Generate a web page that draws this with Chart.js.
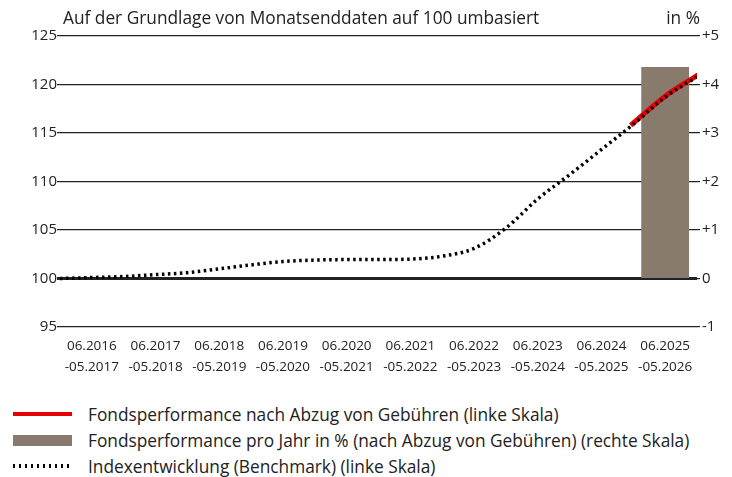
<!DOCTYPE html>
<html>
<head>
<meta charset="utf-8">
<script src="https://cdn.jsdelivr.net/npm/chart.js@4"></script>
<style>
  body { margin: 0; background: #fff; font-family: "Open Sans", sans-serif; color: #222; }
  #wrap { position: relative; width: 732px; height: 477px; }
  #chart-box { position: absolute; left: 0; top: 0; width: 732px; height: 385px; }
  .caption { position: absolute; top: 6px; font-size: 17.3px; white-space: nowrap; }
  #legend { position: absolute; left: 13px; top: 401px; font-size: 17.3px; }
  #legend div { height: 26px; display: flex; align-items: center; white-space: nowrap; }
  .mk { width: 59px; margin-right: 16px; display: inline-block; }
</style>
</head>
<body>
<div id="wrap">
  <div id="chart-box"><canvas id="myChart"></canvas></div>
  <div class="caption" style="left:63px">Auf der Grundlage von Monatsenddaten auf 100 umbasiert</div>
  <div class="caption" style="right:32px">in %</div>
  <div id="legend">
    <div><span class="mk" style="height:4px;background:#e60000"></span>Fondsperformance nach Abzug von Gebühren (linke Skala)</div>
    <div><span class="mk" style="height:11px;background:#887b6d"></span>Fondsperformance pro Jahr in % (nach Abzug von Gebühren) (rechte Skala)</div>
    <div><span class="mk" style="height:4px;background:repeating-linear-gradient(90deg,#000 0 2px,transparent 2px 6px)"></span>Indexentwicklung (Benchmark) (linke Skala)</div>
  </div>
</div>
<script>
// Zeitraeume (Jahresbalken)
const periods = [
    ['06.2016', '-05.2017'], ['06.2017', '-05.2018'], ['06.2018', '-05.2019'],
    ['06.2019', '-05.2020'], ['06.2020', '-05.2021'], ['06.2021', '-05.2022'],
    ['06.2022', '-05.2023'], ['06.2023', '-05.2024'], ['06.2024', '-05.2025'],
    ['06.2025', '-05.2026']
];
// Performance pro Jahr in % (rechte Skala)
const yearlyPerf = [null, null, null, null, null, null, null, null, null, 4.36];

// Benchmark, Monate seit 05.2016 und Indexwert (linke Skala)
const benchMonths = [0, 6, 12, 18, 24, 30, 36, 42, 48, 54, 60, 66, 72, 78, 84, 90, 96, 102, 108, 114, 120];
const benchValues = [100.0, 100.1, 100.2, 100.4, 100.6, 101.0, 101.4, 101.75, 101.9, 101.95, 101.95, 102.0, 102.3, 103.1, 105.2, 108.2, 110.7, 113.3, 115.9, 118.7, 120.8];

// Fonds (linke Skala)
const fundMonths = [107.5, 114, 120.2];
const fundValues = [115.8, 118.8, 121.0];

const leftTicks = [95, 100, 105, 110, 115, 120, 125];
const rightTicks = [-1, 0, 1, 2, 3, 4, 5];

const ctx = document.getElementById('myChart');
const fontFamily = '"Open Sans", sans-serif';

new Chart(ctx, {
    type: 'bar',
    data: {
        labels: periods,
        datasets: [
            {
                type: 'line',
                label: 'Indexentwicklung (Benchmark) (linke Skala)',
                data: benchMonths.map((m, i) => ({ x: m, y: benchValues[i] })),
                xAxisID: 'xl',
                yAxisID: 'y',
                borderColor: '#000',
                borderWidth: 3.5,
                borderDash: [2.5, 3.5],
                pointRadius: 0,
                cubicInterpolationMode: 'monotone',
                order: 0
            },
            {
                type: 'line',
                label: 'Fondsperformance nach Abzug von Gebühren (linke Skala)',
                data: fundMonths.map((m, i) => ({ x: m, y: fundValues[i] })),
                xAxisID: 'xl',
                yAxisID: 'y',
                borderColor: '#e60000',
                borderWidth: 5,
                pointRadius: 0,
                cubicInterpolationMode: 'monotone',
                order: 1
            },
            {
                label: 'Fondsperformance pro Jahr in % (nach Abzug von Gebühren) (rechte Skala)',
                data: yearlyPerf,
                xAxisID: 'x',
                yAxisID: 'y2',
                backgroundColor: '#887b6d',
                grouped: false,
                categoryPercentage: 1,
                barPercentage: 0.75,
                order: 2
            }
        ]
    },
    options: {
        responsive: true,
        maintainAspectRatio: false,
        animation: false,
        layout: { padding: { top: 36, left: 0, right: 0, bottom: 0 } },
        plugins: {
            legend: { display: false },
            tooltip: { enabled: false }
        },
        scales: {
            x: {
                type: 'category',
                offset: true,
                grid: { display: false },
                border: { display: false },
                ticks: {
                    color: '#222',
                    font: { family: fontFamily, size: 13.5, lineHeight: 1.55 },
                    maxRotation: 0,
                    autoSkip: false,
                    padding: 1
                },
                afterFit: s => { s.height = 58; }
            },
            xl: {
                type: 'linear',
                min: 0,
                max: 120,
                offset: false,
                display: false
            },
            y: {
                position: 'left',
                min: 95,
                max: 125,
                afterBuildTicks: s => { s.ticks = leftTicks.map(v => ({ value: v })); },
                grid: {
                    color: '#222',
                    lineWidth: c => (c.tick && c.tick.value === 100 ? 3 : 1.2),
                    tickLength: 3
                },
                border: { display: false },
                ticks: {
                    color: '#222',
                    font: { family: fontFamily, size: 15 },
                    padding: 0
                },
                afterFit: s => { s.width = 60; }
            },
            y2: {
                position: 'right',
                min: -1,
                max: 5,
                afterBuildTicks: s => { s.ticks = rightTicks.map(v => ({ value: v })); },
                grid: {
                    drawOnChartArea: false,
                    color: '#222',
                    lineWidth: 1.2,
                    tickLength: 3
                },
                border: { display: false },
                ticks: {
                    color: '#222',
                    font: { family: fontFamily, size: 15 },
                    padding: 2,
                    callback: v => (v > 0 ? '+' + v : String(v))
                },
                afterFit: s => { s.width = 35; }
            }
        }
    }
});
</script>
</body>
</html>
